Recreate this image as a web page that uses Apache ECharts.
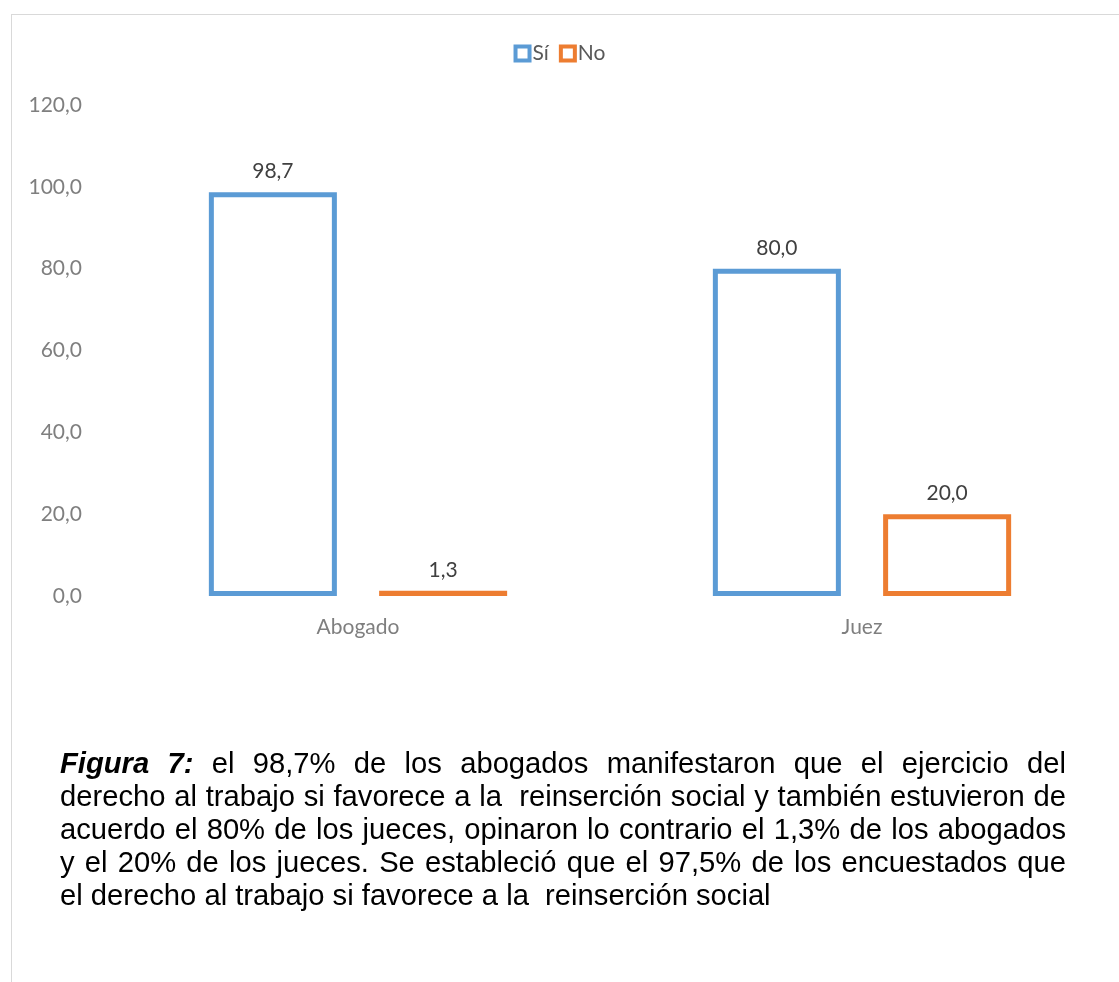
<!DOCTYPE html>
<html>
<head>
<meta charset="utf-8">
<script src="https://cdn.jsdelivr.net/npm/echarts@6/dist/echarts.min.js"></script>
<style>
  html, body { margin: 0; padding: 0; background: #fff; }
  #frame {
    position: absolute; left: 11px; top: 14px; width: 1200px; height: 1000px;
    border-left: 1.5px solid #d9d9d9; border-top: 1.5px solid #d9d9d9;
  }
  #chart { position: absolute; left: 0; top: 0; width: 1119px; height: 982px; }
  #caption {
    position: absolute; left: 60px; top: 747px; width: 1006px;
    font-family: "Liberation Sans", Arial, sans-serif; font-size: 29.2px;
    line-height: 33px; color: #000;
  }
  #caption div { text-align: justify; text-align-last: justify; white-space: pre-wrap; }
  #caption div.last { text-align-last: left; }
</style>
</head>
<body>
<div id="frame"></div>
<div id="chart"></div>
<div id="caption"></div>
<script>
const categories = ["Abogado", "Juez"];
const siValues = [98.7, 80.0];
const noValues = [1.3, 20.0];
const seriesNames = ["Sí", "No"];
const captionLines = [
  "<b><i>Figura 7:</i></b> el 98,7% de los abogados manifestaron que el ejercicio del",
  "derecho al trabajo si favorece a la  reinserción social y también estuvieron de",
  "acuerdo el 80% de los jueces, opinaron lo contrario el 1,3% de los abogados",
  "y el 20% de los jueces. Se estableció que el 97,5% de los encuestados que",
  "el derecho al trabajo si favorece a la  reinserción social"
];

document.getElementById("caption").innerHTML = captionLines
  .map((l, i) => `<div class="${i === captionLines.length - 1 ? "last" : ""}">${l}</div>`)
  .join("");

const font = "Lato, 'Open Sans', sans-serif";
const fmt = v => v.toFixed(1).replace(".", ",");

const chart = echarts.init(document.getElementById("chart"));

function barSeries(name, data, color) {
  return {
    name,
    type: "bar",
    data,
    barWidth: "25.4%",
    barGap: "33%",
    itemStyle: { color: "#fff", borderColor: color, borderWidth: 5 },
    label: {
      show: true,
      position: "top",
      distance: 10,
      color: "#404040",
      fontFamily: font,
      fontSize: 21,
      formatter: p => fmt(p.value)
    }
  };
}

chart.setOption({
  animation: false,
  textStyle: { fontFamily: font },
  legend: {
    top: 38,
    left: "center",
    itemWidth: 14,
    itemHeight: 14,
    itemGap: 10,
    icon: "rect",
    itemStyle: { borderWidth: 4 },
    textStyle: { color: "#595959", fontSize: 21, fontFamily: font, padding: [0, 0, 0, -2] },
    data: seriesNames
  },
  grid: {
    left: 106, right: 5, top: 105, bottom: 386,
    containLabel: false,
    outerBoundsMode: "none"
  },
  xAxis: {
    type: "category",
    data: categories,
    axisLine: { show: false },
    axisTick: { show: false },
    axisLabel: { color: "#7f7f7f", fontSize: 21, fontFamily: font, margin: 21 }
  },
  yAxis: {
    type: "value",
    min: 0, max: 120, interval: 20,
    axisLine: { show: false },
    axisTick: { show: false },
    splitLine: { show: false },
    axisLabel: { color: "#7f7f7f", fontSize: 21, fontFamily: font, margin: 24, formatter: v => fmt(v) }
  },
  series: [
    barSeries(seriesNames[0], siValues, "#5b9bd5"),
    barSeries(seriesNames[1], noValues, "#ed7d31")
  ]
});
</script>
</body>
</html>
